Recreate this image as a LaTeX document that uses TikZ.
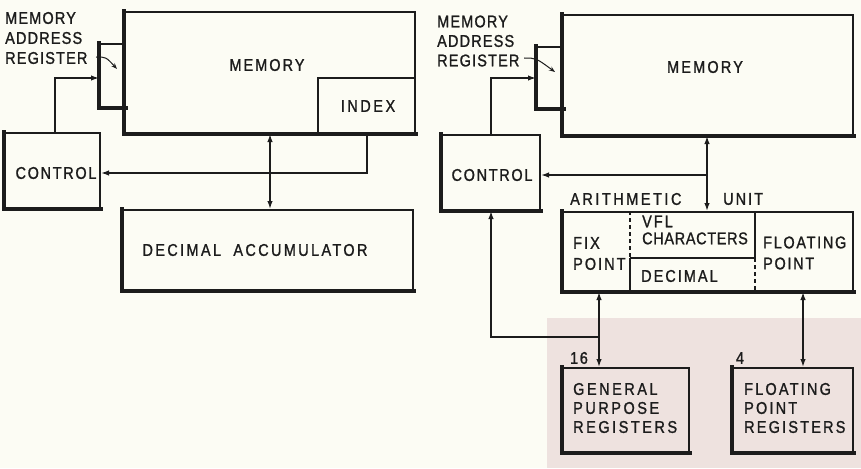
\documentclass[tikz,border=0pt]{standalone}
\usepackage{fontspec}
\setmainfont{Liberation Sans}[FakeStretch=0.85,LetterSpace=10,FakeBold=1.2]
\usetikzlibrary{fit,arrows.meta}
\definecolor{paper}{RGB}{252,252,244}
\definecolor{ink}{RGB}{28,28,28}
\definecolor{pinkbg}{RGB}{238,226,223}
\newcommand{\ls}[1]{\addfontfeature{LetterSpace=#1}}
\tikzset{
  box/.style={draw=ink,line width=2pt,inner sep=0pt},
  heavy/.style={draw=ink,line width=4pt,line cap=rect},
  txt/.style={font=\fontsize{17}{20}\selectfont,text=ink,inner sep=0pt},
  ltxt/.style={txt,align=left,anchor=west},
  conn/.style={draw=ink,line width=1.5pt},
  arr/.style={conn,-{Latex[length=8pt,width=5.5pt]}},
  darr/.style={conn,{Latex[length=8pt,width=5.5pt]}-{Latex[length=8pt,width=5.5pt]}},
  tick/.style={draw=ink,line width=1pt,-{Stealth[length=6pt,width=4.5pt]}},
  divider/.style={draw=ink,line width=1.8pt},
  dashdiv/.style={divider,dash pattern=on 4pt off 3pt},
}
\begin{document}
\begin{tikzpicture}[x=1pt,y=-1pt]
\fill[paper] (0,0) rectangle (861,468);
\useasboundingbox (0,0) rectangle (861,468);
\fill[pinkbg] (547,318) rectangle (861,468);

% ---------------- left diagram ----------------
\node[box,fit={(125,12) (415,133)}] (mem1) {};
\draw[heavy] (mem1.north west) -- (mem1.south west) -- (mem1.south east);
\node[txt] (mem1t) at (267,65) {\ls{12}MEMORY};
\node[box,fit={(318,78) (415,133)}] (idx1) {};
\node[txt] (idx1t) at (368,106) {\ls{15}INDEX};
\node[box,fit={(100,44) (125,107)}] (mar1) {};
\draw[heavy] (mar1.north west) -- (mar1.south west) -- (mar1.south east);
\node[ltxt,font=\fontsize{17}{20}\selectfont] (mar1t) at (5,38) {\ls{7}MEMORY\\\ls{7}ADDRESS\\\ls{7}REGISTER};
\coordinate (m1a) at (96,57);
\coordinate (m1b) at (117,69);
\draw[tick] (m1a) .. controls (106,57) .. (m1b);

\node[box,fit={(5,133) (100,208)}] (ctl1) {};
\draw[heavy] (ctl1.north west) -- (ctl1.south west) -- (ctl1.south east);
\node[txt] (ctl1t) at (56,173) {CONTROL};

\node[box,fit={(123,210) (413,290)}] (dacc) {};
\draw[heavy] (dacc.north west) -- (dacc.south west) -- (dacc.south east);
\node[txt] (dacct) at (255,250) {\ls{14}DECIMAL\hspace{6pt} ACCUMULATOR};

\coordinate (c1a) at (55,78);
\draw[arr] (ctl1.north -| c1a) -- (c1a) -- (c1a -| mar1.west);
\coordinate (i1a) at (367,173);
\draw[arr] (idx1.south -| i1a) -- (i1a) -- (i1a -| ctl1.east);
\coordinate (d1) at (270,0);
\draw[darr] (mem1.south -| d1) -- (dacc.north -| d1);

% ---------------- right diagram ----------------
\node[box,fit={(563,15) (853,135)}] (mem2) {};
\draw[heavy] (mem2.north west) -- (mem2.south west) -- (mem2.south east);
\node[txt] (mem2t) at (705,67) {\ls{13}MEMORY};
\node[box,fit={(537,47) (563,108)}] (mar2) {};
\draw[heavy] (mar2.north west) -- (mar2.south west) -- (mar2.south east);
\node[ltxt,font=\fontsize{17}{19.5}\selectfont] (mar2t) at (437,41) {\ls{7}MEMORY\\\ls{7}ADDRESS\\\ls{7}REGISTER};
\coordinate (m2a) at (524,58);
\coordinate (m2b) at (555,72);
\draw[tick] (m2a) .. controls (536,58) .. (m2b);

\node[box,fit={(442,135) (540,210)}] (ctl2) {};
\draw[heavy] (ctl2.north west) -- (ctl2.south west) -- (ctl2.south east);
\node[txt] (ctl2t) at (492,175) {CONTROL};

\coordinate (c2a) at (491,78);
\draw[arr] (ctl2.north -| c2a) -- (c2a) -- (c2a -| mar2.west);

% arithmetic unit
\node[box,fit={(563,212) (853,291)}] (au) {};
\draw[heavy] (au.north west) -- (au.south west) -- (au.south east);
\node[txt,anchor=west] (aut1) at (570,199) {\ls{15}ARITHMETIC};
\node[txt,anchor=west] (aut2) at (723,199) {\ls{12}UNIT};
\coordinate (x1t) at (630,212);
\coordinate (x1m) at (630,258);
\coordinate (x2m) at (755,258);
\coordinate (x2t) at (755,212);
\draw[dashdiv] (au.north -| x1t) -- (x1m);
\draw[divider] (x1m) -- (au.south -| x1m);
\draw[divider] (x1m) -- (x2m);
\draw[divider] (au.north -| x2t) -- (x2m);
\draw[dashdiv] (x2m) -- (au.south -| x2m);
\node[ltxt,font=\fontsize{17}{21}\selectfont] (fixt) at (573,253.5) {\ls{12}FIX\\\ls{12}POINT};
\node[ltxt,font=\fontsize{17}{17}\selectfont] (vflt) at (642,230) {\ls{12}VFL\\\ls{4}CHARACTERS};
\node[ltxt] (dect) at (641,276) {\ls{12}DECIMAL};
\node[ltxt,font=\fontsize{17}{21}\selectfont] (flt) at (763,253) {FLOATING\\POINT};

\coordinate (a2) at (707,175);
\draw[darr] (mem2.south -| a2) -- (au.north -| a2);
\draw[arr] (a2) -- (a2 -| ctl2.east);

% registers
\node[box,fit={(563,368) (689,452)}] (gpr) {};
\draw[heavy] (gpr.north west) -- (gpr.south west) -- (gpr.south east);
\node[ltxt,font=\fontsize{17}{19}\selectfont] (gprt) at (573,408) {\ls{15}GENERAL\\\ls{15}PURPOSE\\\ls{15}REGISTERS};
\node[box,fit={(733,368) (853,452)}] (fpr) {};
\draw[heavy] (fpr.north west) -- (fpr.south west) -- (fpr.south east);
\node[ltxt,font=\fontsize{17}{19}\selectfont] (fprt) at (744,408) {\ls{13}FLOATING\\\ls{13}POINT\\\ls{13}REGISTERS};
\node[txt] (n16) at (579,358) {16};
\node[txt] (n4) at (740,358) {4};

\coordinate (g1) at (599,337);
\coordinate (g2) at (803,0);
\draw[darr] (au.south -| g1) -- (gpr.north -| g1);
\draw[darr] (au.south -| g2) -- (fpr.north -| g2);
\coordinate (r1) at (491,337);
\draw[arr] (g1) -- (r1) -- (r1 |- ctl2.south);
\end{tikzpicture}
\end{document}
